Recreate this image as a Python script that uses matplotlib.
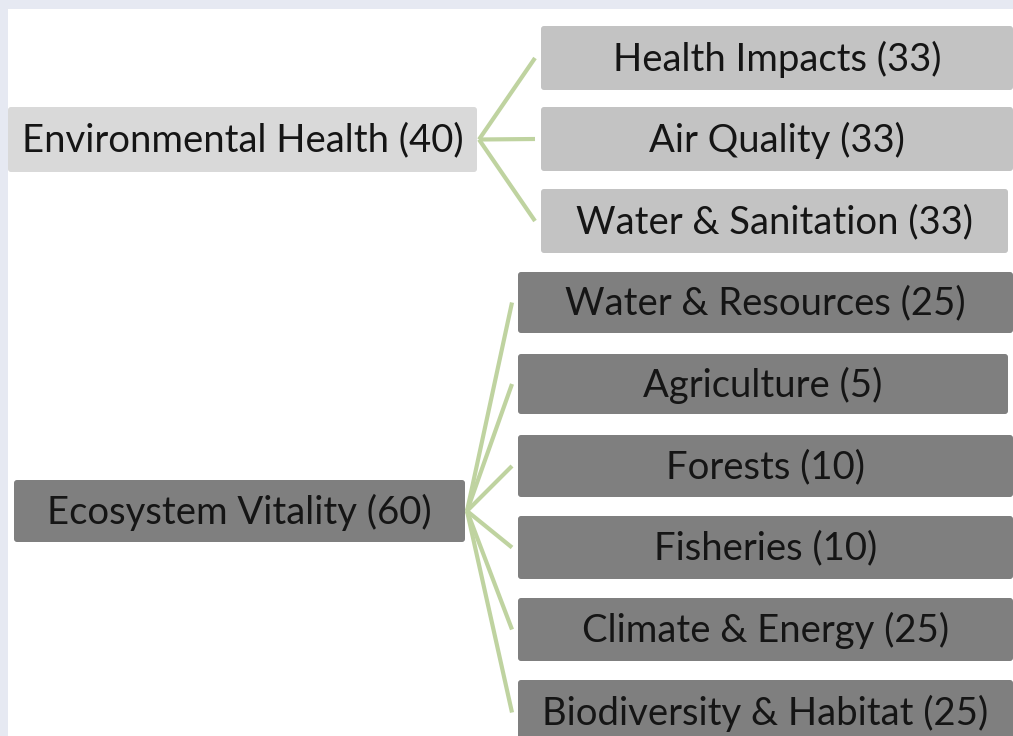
import matplotlib
matplotlib.use('Agg')

import matplotlib.pyplot as plt
from matplotlib.patches import FancyBboxPatch, Rectangle

# categories and weights
parents = ['Environmental Health', 'Ecosystem Vitality']
parentWeights = [40, 60]
children = [
  ['Health Impacts', 'Air Quality', 'Water & Sanitation'],
  ['Water & Resources', 'Agriculture', 'Forests', 'Fisheries',
   'Climate & Energy', 'Biodiversity & Habitat'],
]
childWeights = [
  [33, 33, 33],
  [25, 5, 10, 10, 25, 25],
]

# layout (pixels, y down)
parentBoxes = [(8, 107, 477, 172), (14, 480, 465, 542)]
childBoxes = [
  [(541, 26, 1013, 90), (541, 107, 1013, 171), (541, 189, 1008, 253)],
  [(518, 272, 1013, 333), (518, 354, 1008, 414), (518, 435, 1013, 497),
   (518, 516, 1013, 579), (518, 598, 1013, 661), (518, 680, 1013, 745)],
]
parentColors = ['#d9d9d9', '#7f7f7f']
childColors = ['#c3c3c3', '#7f7f7f']
lineColor = '#bfd3a0'

plt.rcParams['font.family'] = ['Lato', 'DejaVu Sans']

fig = plt.figure(figsize=(10.13, 7.36), dpi=100)
fig.patch.set_facecolor('#e6e9f2')
ax = fig.add_axes([0, 0, 1, 1])
ax.set_xlim(0, 1013)
ax.set_ylim(736, 0)
ax.axis('off')

ax.add_patch(Rectangle((8, 9), 1013, 736, facecolor='white', edgecolor='none', zorder=0))

def box(x0, y0, x1, y1, color, text):
  ax.add_patch(FancyBboxPatch((x0 + 3, y0 + 3), x1 - x0 - 6, y1 - y0 - 6,
                              boxstyle='round,pad=3', facecolor=color,
                              edgecolor='none', zorder=2))
  ax.text((x0 + x1) / 2, (y0 + y1) / 2 + 1, text, ha='center', va='center',
          fontsize=27.5, color='#151515', zorder=3)

for i, name in enumerate(parents):
  px0, py0, px1, py1 = parentBoxes[i]
  pmid = (py0 + py1) / 2
  for j, cname in enumerate(children[i]):
    cx0, cy0, cx1, cy1 = childBoxes[i][j]
    ax.plot([px1 + 2, cx0 - 6], [pmid, (cy0 + cy1) / 2], color=lineColor,
            lw=3, solid_capstyle='butt', zorder=1)
    box(cx0, cy0, cx1, cy1, childColors[i], '{} ({})'.format(cname, childWeights[i][j]))
  box(px0, py0, px1, py1, parentColors[i], '{} ({})'.format(name, parentWeights[i]))

plt.savefig('out.png', dpi=100, facecolor=fig.get_facecolor())
plt.close('all')
